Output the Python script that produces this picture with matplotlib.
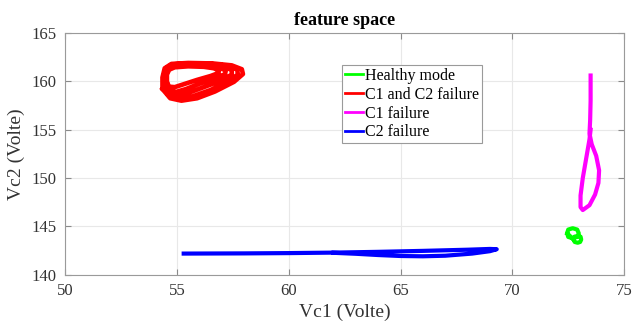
import matplotlib
matplotlib.use("Agg")
import matplotlib.pyplot as plt

plt.rcParams['font.family'] = ['Liberation Serif', 'DejaVu Serif']

# ---- data ----
# C1 and C2 failure: several nested loops (one continuous trajectory)
red_x = [54.55, 54.55, 54.65, 54.9, 55.5, 56.2, 56.65, 56.88, 56.85, 56.5, 55.9, 55.3, 54.9, 54.65, 54.55,
         54.5, 54.5, 54.6, 54.9, 55.5, 56.3, 56.9, 57.18, 57.15, 56.7, 56.0, 55.4, 54.95, 54.65, 54.5,
         54.45, 54.45, 54.55, 54.85, 55.5, 56.4, 57.1, 57.45, 57.45, 57.0, 56.2, 55.5, 55.0, 54.65, 54.45,
         54.4, 54.4, 54.5, 54.8, 55.5, 56.5, 57.3, 57.7, 57.72, 57.3, 56.5, 55.7, 55.1, 54.65, 54.4,
         54.35, 54.35, 54.45, 54.75, 55.5, 56.6, 57.45, 57.9, 57.95, 57.55, 56.7, 55.9, 55.2, 54.7, 54.35]
red_y = [159.9, 160.7, 161.2, 161.45, 161.55, 161.5, 161.35, 161.1, 160.85, 160.55, 160.15, 159.7, 159.4, 159.45, 159.9,
         159.8, 160.7, 161.3, 161.6, 161.7, 161.65, 161.45, 161.1, 160.75, 160.3, 159.75, 159.2, 158.9, 159.1, 159.8,
         159.6, 160.6, 161.35, 161.7, 161.8, 161.75, 161.55, 161.15, 160.7, 160.1, 159.4, 158.8, 158.5, 158.75, 159.6,
         159.4, 160.5, 161.35, 161.75, 161.85, 161.8, 161.6, 161.2, 160.7, 160.0, 159.1, 158.45, 158.2, 158.45, 159.4,
         159.2, 160.4, 161.35, 161.8, 161.9, 161.85, 161.65, 161.25, 160.75, 159.95, 158.95, 158.25, 158.0, 158.25, 159.2]

# C1 failure
mag_x = [73.5, 73.5, 73.48, 73.45, 73.55, 73.75, 73.88, 73.85, 73.7, 73.45, 73.15,
         73.05, 73.05, 73.15, 73.3, 73.45, 73.5]
mag_y = [160.6, 158.0, 156.0, 154.6, 153.5, 152.3, 150.8, 149.5, 148.3, 147.2, 146.7,
         147.0, 148.2, 150.0, 152.0, 154.0, 155.0]

# C2 failure
blue_x = [55.3, 58.0, 60.0, 62.0, 64.0, 66.0, 68.0, 69.0, 69.3,
          69.0, 68.2, 67.0, 66.0, 65.0, 64.0, 63.0, 62.0]
blue_y = [142.2, 142.22, 142.25, 142.3, 142.38, 142.48, 142.6, 142.68, 142.65,
          142.45, 142.2, 141.98, 141.92, 141.95, 142.05, 142.18, 142.28]

# Healthy mode: two small overlapping loops
green_x = [72.45, 72.5, 72.7, 72.9, 72.97, 72.9, 72.7, 72.5, 72.45,
           72.74, 72.78, 72.92, 73.05, 73.08, 73.03, 72.92, 72.79, 72.74]
green_y = [144.3, 144.68, 144.82, 144.68, 144.3, 143.92, 143.78, 143.92, 144.3,
           143.65, 143.95, 144.0, 143.95, 143.65, 143.4, 143.32, 143.4, 143.65]

x_ticks = [50, 55, 60, 65, 70, 75]
y_ticks = [140, 145, 150, 155, 160, 165]

# ---- figure ----
fig = plt.figure(figsize=(6.33, 3.23), dpi=100)
ax = fig.add_axes([0.103, 0.149, 0.883, 0.749])

lw = 3.0
ax.plot(green_x, green_y, color='#00ff00', lw=lw, label='Healthy mode', solid_joinstyle='round')
ax.plot(red_x, red_y, color='#ff0000', lw=3.3, label='C1 and C2 failure', solid_joinstyle='round')
ax.plot(mag_x, mag_y, color='#ff00ff', lw=lw, label='C1 failure', solid_joinstyle='round')
ax.plot(blue_x, blue_y, color='#0000ff', lw=lw, label='C2 failure', solid_joinstyle='round')

ax.set_xlim(50, 75)
ax.set_ylim(140, 165)
ax.set_xticks(x_ticks)
ax.set_yticks(y_ticks)
ax.grid(True, color='#e8e8e8', lw=0.8)
ax.set_axisbelow(True)
ax.tick_params(direction='in', top=True, right=True, length=4, width=0.8,
               color='#8a8a8a', labelcolor='#333333', labelsize=12, pad=6)
for s in ax.spines.values():
    s.set_color('#9a9a9a')
    s.set_linewidth(0.8)

ax.set_xlabel('Vc1 (Volte)', fontsize=14, color='#333333', labelpad=3)
ax.set_ylabel('Vc2 (Volte)', fontsize=14, color='#333333', labelpad=5)
ax.set_title('feature space', fontsize=13, fontweight='bold', pad=6)

leg = ax.legend(loc='upper left', bbox_to_anchor=(0.496, 0.868), borderaxespad=0,
                fontsize=11.5, frameon=True, fancybox=False, framealpha=1,
                edgecolor='#9a9a9a', handlelength=1.1, handletextpad=0.15,
                labelspacing=0.18, borderpad=0.18)
leg.get_frame().set_linewidth(0.8)
for h in leg.get_lines():
    h.set_linewidth(2)

fig.savefig('out.png', dpi=100)
